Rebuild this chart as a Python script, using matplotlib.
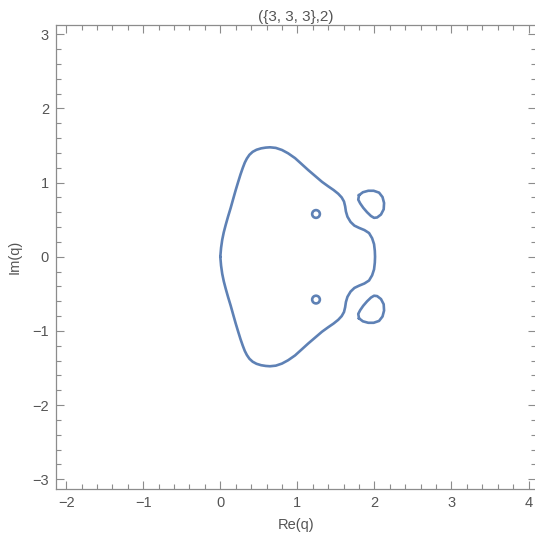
import matplotlib
matplotlib.use("Agg")
import matplotlib.pyplot as plt
from matplotlib.patches import Ellipse
from matplotlib.ticker import MultipleLocator

# upper half of the outer curve, from (0, 0) over the top to (2, 0)
outer_x = [0.000, 0.010, 0.025, 0.045, 0.070, 0.100, 0.135, 0.170, 0.200, 0.232,
           0.262, 0.292, 0.318, 0.345, 0.378, 0.420, 0.470, 0.530, 0.590, 0.645,
           0.720, 0.800, 0.880, 0.970, 1.050, 1.140, 1.230, 1.320, 1.400, 1.470,
           1.530, 1.575, 1.605, 1.620, 1.630, 1.650, 1.690, 1.740, 1.800, 1.870,
           1.930, 1.970, 1.995, 2.005, 2.008]
outer_y = [0.000, 0.120, 0.230, 0.330, 0.430, 0.540, 0.660, 0.790, 0.900, 1.010,
           1.110, 1.200, 1.270, 1.325, 1.375, 1.415, 1.443, 1.462, 1.472, 1.476,
           1.468, 1.440, 1.395, 1.330, 1.255, 1.170, 1.090, 1.010, 0.950, 0.900,
           0.850, 0.800, 0.745, 0.680, 0.610, 0.540, 0.470, 0.420, 0.390, 0.360,
           0.320, 0.250, 0.170, 0.080, 0.000]

# loop to the upper right
loop_x = [1.800, 1.850, 1.920, 1.990, 2.060, 2.105, 2.125, 2.120, 2.085, 2.035,
          1.995, 1.955, 1.905, 1.855, 1.815, 1.790, 1.800]
loop_y = [0.830, 0.870, 0.890, 0.890, 0.865, 0.805, 0.725, 0.640, 0.570, 0.530,
          0.525, 0.550, 0.600, 0.660, 0.720, 0.770, 0.830]

# tiny rings
ring_x = [1.242, 1.242]
ring_y = [0.577, -0.577]
ring_r = 0.05

x_ticks = [-2, -1, 0, 1, 2, 3, 4]
y_ticks = [-3, -2, -1, 0, 1, 2, 3]

line_color = "#5E81B5"
frame_color = "#8c8c8c"
text_color = "#555555"

plt.rcParams["font.family"] = ["Liberation Sans", "DejaVu Sans"]

fig = plt.figure(figsize=(5.35, 5.4), dpi=100)
ax = fig.add_axes([56 / 535, 51 / 540, 479.5 / 535, 464 / 540])

# full outer curve: upper half, then its mirror image back to the start
full_x = outer_x + outer_x[::-1]
full_y = outer_y + [-v for v in outer_y[::-1]]
ax.plot(full_x, full_y, color=line_color, lw=1.9, solid_joinstyle="round", solid_capstyle="round")
ax.plot(loop_x, loop_y, color=line_color, lw=1.9, solid_joinstyle="round")
ax.plot(loop_x, [-v for v in loop_y], color=line_color, lw=1.9, solid_joinstyle="round")
for cx, cy in zip(ring_x, ring_y):
    ax.add_patch(Ellipse((cx, cy), 2 * ring_r * 1.0, 2 * ring_r * 1.04,
                         fill=False, edgecolor=line_color, lw=1.9))

ax.set_xlim(-2.132, 4.09)
ax.set_ylim(-3.131, 3.125)
ax.set_xticks(x_ticks)
ax.set_yticks(y_ticks)
ax.set_xticklabels([str(t).replace("-", "\u2212") for t in x_ticks])
ax.set_yticklabels([str(t).replace("-", "\u2212") for t in y_ticks])
ax.xaxis.set_minor_locator(MultipleLocator(0.2))
ax.yaxis.set_minor_locator(MultipleLocator(0.2))
ax.tick_params(which="both", direction="in", top=True, right=True, color=frame_color,
               labelcolor=text_color, labelsize=10.5, width=0.8)
ax.tick_params(which="major", length=6, pad=5)
ax.tick_params(which="minor", length=3.5)
for spine in ax.spines.values():
    spine.set_color(frame_color)
    spine.set_linewidth(0.9)

ax.set_title("({3, 3, 3},2)", color=text_color, fontsize=11, pad=3)
ax.set_xlabel("Re(q)", color=text_color, fontsize=10.5, labelpad=6)
ax.set_ylabel("Im(q)", color=text_color, fontsize=10.5, labelpad=8)

fig.savefig("out.png", dpi=100)
